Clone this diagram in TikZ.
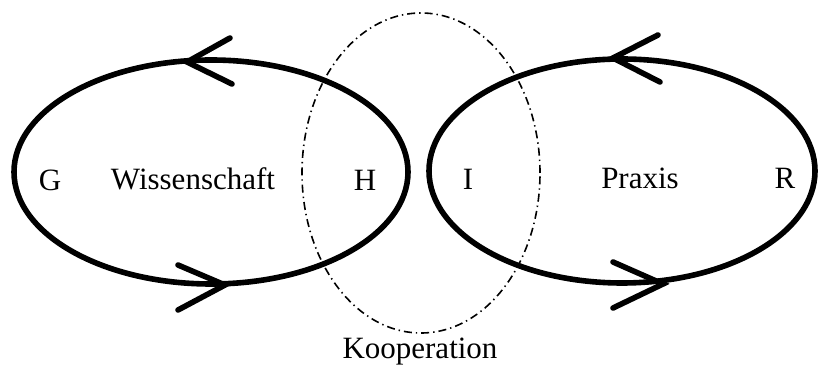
\documentclass[tikz,border=0pt]{standalone}
\usepackage{fontspec}
\setmainfont{Liberation Serif}
\usetikzlibrary{positioning}

\begin{document}
\begin{tikzpicture}[x=0.5pt,y=-0.5pt,
    loop/.style={line width=2.8pt},
    barb/.style={line width=2.8pt,line cap=round,line join=miter},
    coop/.style={line width=0.8pt,dash pattern=on 4pt off 2pt on 0.7pt off 2pt},
    lbl/.style={font=\fontsize{15.5}{18}\selectfont,inner sep=0pt}]
  \useasboundingbox (0,0) rectangle (818,367);
  % centres of the three ellipses
  \coordinate (wc) at (211,172);
  \coordinate (pc) at (622,171);
  \coordinate (kc) at (421,173);
  \draw[loop] (wc) ellipse [x radius=98.5pt,y radius=56pt];
  \draw[loop] (pc) ellipse [x radius=96.5pt,y radius=56pt];
  \draw[coop] (kc) ellipse [x radius=59.5pt,y radius=80pt];
  % open arrow heads on the loops
  \draw[barb] (230,38) -- (187,62) -- (232,84);
  \draw[barb] (178,265) -- (225,285) -- (178,310);
  \draw[barb] (658,35) -- (613,58) -- (660,82);
  \draw[barb] (613,262) -- (663,284) -- (613,308);
  % labels
  \node[lbl] (G) at (50,180) {G};
  \node[lbl] (wiss) at (193,179) {Wissenschaft};
  \node[lbl] (H) at (365,180) {H};
  \node[lbl] (I) at (468,179) {I};
  \node[lbl] (praxis) at (640,178) {Praxis};
  \node[lbl] (R) at (785,178) {R};
  \node[lbl] (koop) at (420,352) {Kooperation};
\end{tikzpicture}
\end{document}
